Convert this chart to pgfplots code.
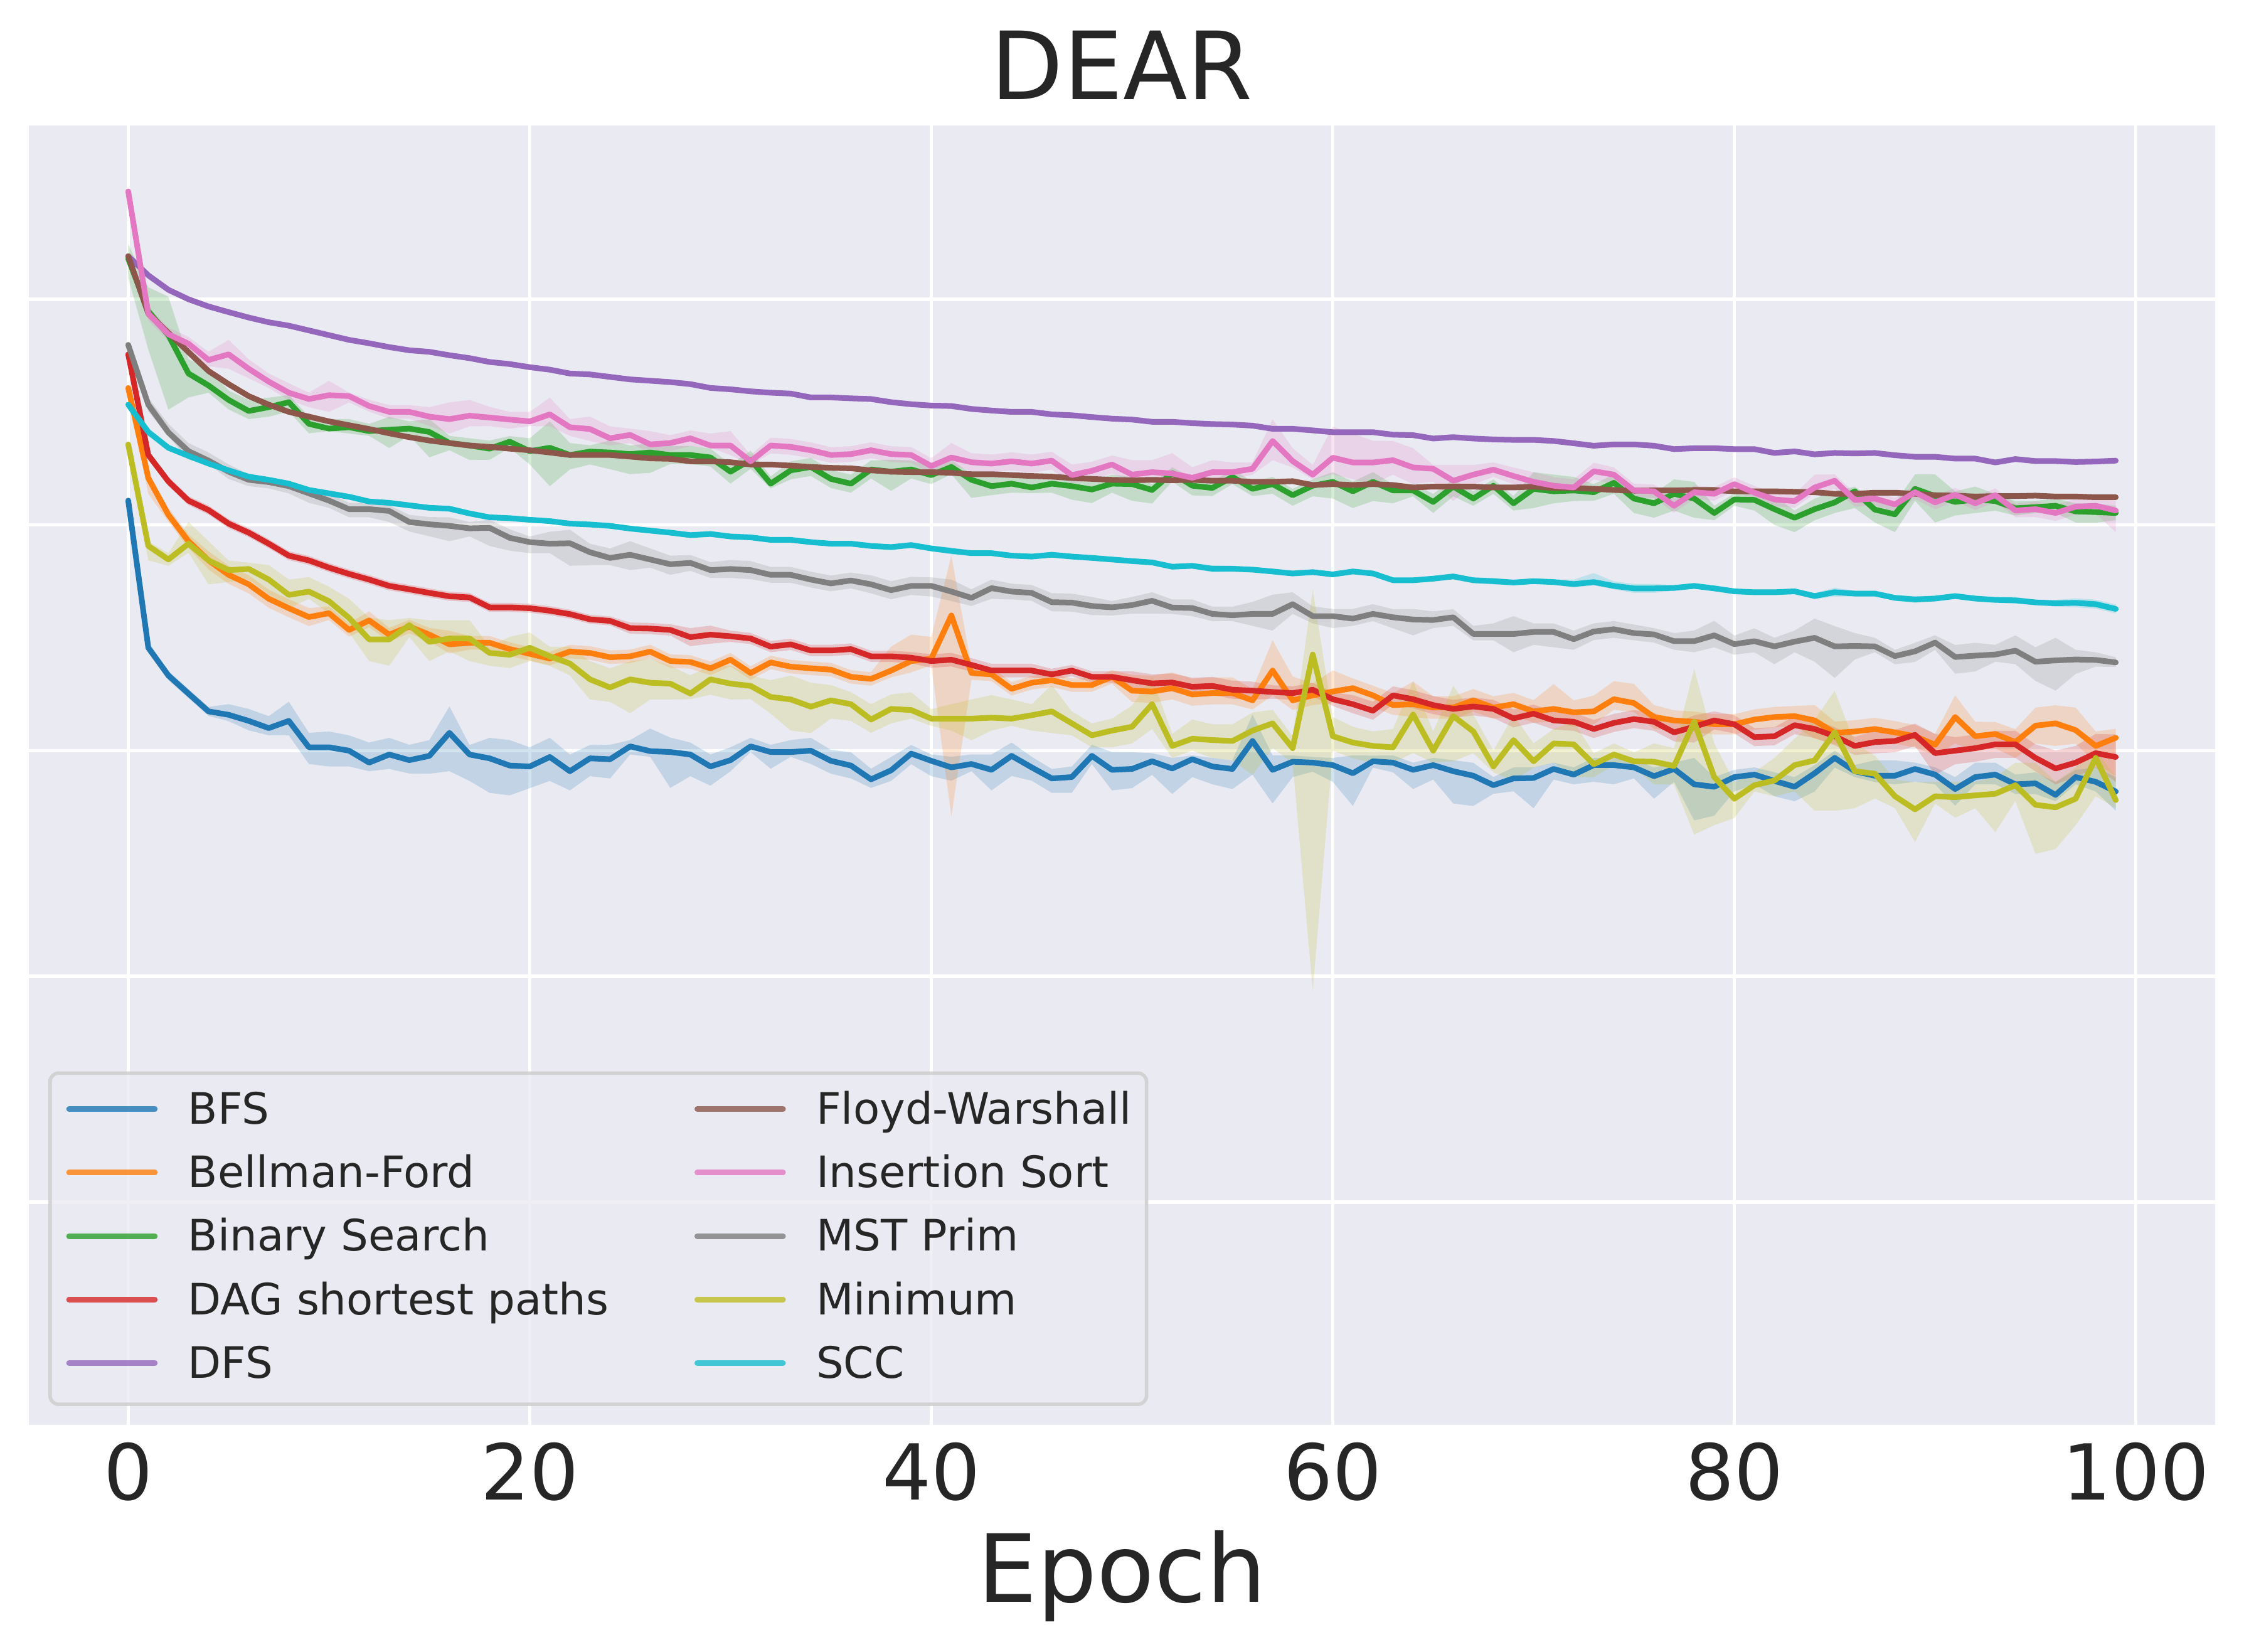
\documentclass[border=0pt]{standalone}
\usepackage{fontspec}
\setmainfont{DejaVu Sans}
\usepackage{pgfplots}
\usepackage{pgfplotstable}
\pgfplotsset{compat=1.18}
\usepgfplotslibrary{fillbetween}

\definecolor{cBFS}{HTML}{1F77B4}
\definecolor{cBF}{HTML}{FF7F0E}
\definecolor{cBS}{HTML}{2CA02C}
\definecolor{cDAG}{HTML}{D62728}
\definecolor{cDFS}{HTML}{9467BD}
\definecolor{cFW}{HTML}{8C564B}
\definecolor{cIS}{HTML}{E377C2}
\definecolor{cMST}{HTML}{7F7F7F}
\definecolor{cMIN}{HTML}{BCBD22}
\definecolor{cSCC}{HTML}{17BECF}
\definecolor{bgc}{HTML}{EAEAF2}
\definecolor{textc}{HTML}{262626}
\definecolor{legedge}{HTML}{CCCCCC}

\pgfplotstableread{
x y d u
0 3.108 0.02 0.02
1 2.456 0.017 0.025
2 2.333 0.02 0.02
3 2.253 0.02 0.02
4 2.174 0.02 0.02
5 2.159 0.028 0.047
6 2.132 0.042 0.053
7 2.100 0.032 0.053
8 2.132 0.064 0.085
9 2.015 0.074 0.064
10 2.015 0.085 0.07
11 2.000 0.07 0.068
12 1.947 0.038 0.089
13 1.983 0.064 0.074
14 1.958 0.059 0.068
15 1.977 0.079 0.07
16 2.079 0.17 0.117
17 1.983 0.117 0.042
18 1.966 0.153 0.091
19 1.934 0.132 0.113
20 1.930 0.096 0.085
21 1.972 0.106 0.085
22 1.909 0.085 0.074
23 1.966 0.079 0.059
24 1.962 0.085 0.064
25 2.019 0.036 0.028
26 1.998 0.025 0.10
27 1.994 0.159 0.064
28 1.983 0.096 0.053
29 1.930 0.085 0.053
30 1.958 0.049 0.057
31 2.019 0.025 0.038
32 1.994 0.074 0.032
33 1.994 0.021 0.053
34 2.000 0.059 0.057
35 1.955 0.057 0.049
36 1.934 0.057 0.059
37 1.873 0.038 0.047
38 1.913 0.047 0.059
39 1.987 0.047 0.038
40 1.955 0.068 0.028
41 1.926 0.059 0.047
42 1.941 0.032 0.042
43 1.915 0.091 0.068
44 1.977 0.089 0.059
45 1.926 0.059 0.047
46 1.877 0.064 0.042
47 1.883 0.07 0.047
48 1.977 0.036 0.049
49 1.915 0.091 0.079
50 1.919 0.085 0.074
51 1.953 0.06 0.036
52 1.921 0.113 0.047
53 1.962 0.079 0.017
54 1.930 0.079 0.038
55 1.919 0.089 0.038
56 2.043 0.149 0.117
57 1.915 0.149 0.064
58 1.951 0.068 0.028
59 1.947 0.04 0.025
60 1.936 0.074 0.032
61 1.900 0.145 0.079
62 1.953 0.028 0.025
63 1.947 0.043 0.032
64 1.915 0.085 0.032
65 1.936 0.064 0.032
66 1.909 0.143 0.049
67 1.889 0.134 0.057
68 1.847 0.038 0.036
69 1.877 0.057 0.049
70 1.879 0.134 0.047
71 1.919 0.047 0.028
72 1.894 0.043 0.032
73 1.936 0.074 0.032
74 1.936 0.085 0.032
75 1.926 0.049 0.036
76 1.887 0.10 0.038
77 1.919 0.057 0.028
78 1.851 0.16 0.117
79 1.840 0.128 0.043
80 1.883 0.064 0.032
81 1.894 0.043 0.032
82 1.866 0.068 0.038
83 1.840 0.064 0.043
84 1.900 0.081 0.036
85 1.968 0.043 0.032
86 1.909 0.026 0.028
87 1.889 0.028 0.068
88 1.889 0.038 0.068
89 1.919 0.057 0.028
90 1.894 0.043 0.032
91 1.830 0.074 0.053
92 1.883 0.032 0.064
93 1.894 0.043 0.053
94 1.851 0.043 0.043
95 1.855 0.047 0.049
96 1.804 0.028 0.057
97 1.883 0.032 0.032
98 1.862 0.043 0.064
99 1.819 0.085 0.064
}\tBFS

\pgfplotstableread{
x y d u
0 3.607 0.02 0.02
1 3.208 0.07 0.02
2 3.045 0.03 0.03
3 2.928 0.03 0.03
4 2.843 0.04 0.04
5 2.779 0.04 0.04
6 2.737 0.04 0.04
7 2.673 0.04 0.04
8 2.631 0.04 0.04
9 2.592 0.04 0.04
10 2.609 0.03 0.03
11 2.535 0.03 0.03
12 2.577 0.03 0.04
13 2.514 0.03 0.03
14 2.550 0.03 0.03
15 2.514 0.03 0.03
16 2.471 0.04 0.06
17 2.478 0.03 0.03
18 2.478 0.03 0.03
19 2.450 0.03 0.03
20 2.429 0.03 0.03
21 2.408 0.03 0.03
22 2.439 0.03 0.03
23 2.433 0.03 0.03
24 2.414 0.03 0.03
25 2.418 0.03 0.03
26 2.439 0.03 0.03
27 2.397 0.03 0.03
28 2.393 0.03 0.03
29 2.365 0.03 0.03
30 2.403 0.03 0.03
31 2.344 0.03 0.03
32 2.391 0.03 0.03
33 2.372 0.03 0.03
34 2.365 0.03 0.03
35 2.359 0.03 0.03
36 2.327 0.03 0.03
37 2.318 0.03 0.03
38 2.355 0.03 0.106
39 2.397 0.05 0.117
40 2.408 0.03 0.096
41 2.599 0.89 0.265
42 2.344 0.03 0.03
43 2.338 0.03 0.03
44 2.274 0.03 0.03
45 2.301 0.03 0.03
46 2.312 0.03 0.03
47 2.291 0.03 0.03
48 2.291 0.03 0.03
49 2.327 0.03 0.03
50 2.266 0.05 0.07
51 2.262 0.05 0.07
52 2.277 0.05 0.07
53 2.249 0.05 0.07
54 2.255 0.05 0.07
55 2.255 0.05 0.07
56 2.223 0.04 0.05
57 2.355 0.11 0.134
58 2.223 0.043 0.106
59 2.245 0.043 0.053
60 2.262 0.05 0.094
61 2.277 0.053 0.043
62 2.245 0.053 0.043
63 2.202 0.043 0.053
64 2.206 0.057 0.10
65 2.191 0.05 0.05
66 2.191 0.05 0.05
67 2.223 0.05 0.05
68 2.191 0.05 0.05
69 2.206 0.05 0.05
70 2.174 0.05 0.05
71 2.185 0.057 0.11
72 2.170 0.064 0.053
73 2.174 0.057 0.07
74 2.228 0.047 0.08
75 2.211 0.04 0.085
76 2.149 0.053 0.053
77 2.134 0.045 0.045
78 2.128 0.045 0.045
79 2.117 0.045 0.045
80 2.117 0.045 0.045
81 2.138 0.045 0.045
82 2.149 0.045 0.045
83 2.153 0.045 0.045
84 2.134 0.08 0.068
85 2.079 0.05 0.05
86 2.085 0.05 0.05
87 2.096 0.05 0.05
88 2.081 0.05 0.05
89 2.064 0.05 0.05
90 2.026 0.047 0.049
91 2.149 0.117 0.096
92 2.064 0.064 0.064
93 2.074 0.064 0.053
94 2.038 0.07 0.057
95 2.111 0.08 0.08
96 2.121 0.1 0.08
97 2.091 0.06 0.1
98 2.021 0.074 0.064
99 2.057 0.17 0.04
}\tBF

\pgfplotstableread{
x y d u
0 4.180 0.085 0.064
1 3.947 0.17 0.106
2 3.841 0.33 0.17
3 3.671 0.106 0.064
4 3.618 0.032 0.074
5 3.554 0.042 0.042
6 3.505 0.036 0.049
7 3.522 0.042 0.042
8 3.544 0.042 0.032
9 3.448 0.042 0.032
10 3.427 0.011 0.042
11 3.433 0.028 0.036
12 3.416 0.021 0.032
13 3.422 0.081 0.057
14 3.427 0.032 0.032
15 3.412 0.112 0.057
16 3.363 0.032 0.032
17 3.352 0.064 0.032
18 3.338 0.049 0.036
19 3.369 0.028 0.025
20 3.327 0.059 0.057
21 3.342 0.17 0.117
22 3.310 0.064 0.053
23 3.325 0.057 0.028
24 3.321 0.074 0.053
25 3.314 0.089 0.038
26 3.321 0.09 0.04
27 3.310 0.04 0.04
28 3.310 0.04 0.04
29 3.299 0.04 0.04
30 3.236 0.053 0.032
31 3.289 0.04 0.04
32 3.183 0.021 0.032
33 3.242 0.04 0.04
34 3.257 0.04 0.04
35 3.204 0.04 0.04
36 3.183 0.04 0.04
37 3.246 0.04 0.04
38 3.236 0.085 0.053
39 3.246 0.04 0.04
40 3.221 0.04 0.04
41 3.257 0.032 0.032
42 3.200 0.08 0.025
43 3.172 0.04 0.04
44 3.183 0.04 0.04
45 3.166 0.025 0.038
46 3.183 0.04 0.04
47 3.172 0.06 0.04
48 3.157 0.06 0.04
49 3.183 0.04 0.04
50 3.181 0.074 0.032
51 3.155 0.06 0.026
52 3.230 0.038 0.026
53 3.174 0.043 0.032
54 3.164 0.036 0.028
55 3.213 0.032 0.032
56 3.160 0.032 0.032
57 3.181 0.043 0.032
58 3.132 0.047 0.028
59 3.174 0.047 0.028
60 3.191 0.074 0.043
61 3.149 0.074 0.043
62 3.191 0.085 0.043
63 3.153 0.057 0.028
64 3.153 0.026 0.028
65 3.102 0.049 0.036
66 3.170 0.043 0.032
67 3.117 0.032 0.032
68 3.174 0.036 0.028
69 3.096 0.032 0.032
70 3.160 0.085 0.074
71 3.149 0.053 0.074
72 3.153 0.047 0.06
73 3.145 0.038 0.036
74 3.187 0.049 0.036
75 3.117 0.064 0.043
76 3.096 0.064 0.043
77 3.138 0.074 0.064
78 3.117 0.085 0.074
79 3.053 0.032 0.032
80 3.113 0.028 0.026
81 3.111 0.047 0.038
82 3.070 0.07 0.057
83 3.032 0.064 0.032
84 3.070 0.049 0.047
85 3.100 0.047 0.049
86 3.149 0.074 0.021
87 3.068 0.057 0.038
88 3.047 0.079 0.049
89 3.160 0.053 0.064
90 3.128 0.117 0.096
91 3.102 0.06 0.047
92 3.113 0.06 0.057
93 3.106 0.043 0.032
94 3.074 0.032 0.032
95 3.079 0.026 0.028
96 3.085 0.032 0.032
97 3.060 0.049 0.036
98 3.057 0.047 0.038
99 3.053 0.032 0.032
}\tBS

\pgfplotstableread{
x y d u
0 3.756 0.02 0.02
1 3.310 0.02 0.02
2 3.193 0.02 0.02
3 3.108 0.02 0.02
4 3.066 0.02 0.02
5 3.006 0.02 0.02
6 2.966 0.02 0.02
7 2.917 0.02 0.02
8 2.864 0.02 0.02
9 2.843 0.02 0.02
10 2.811 0.02 0.02
11 2.783 0.02 0.02
12 2.758 0.02 0.02
13 2.730 0.02 0.02
14 2.715 0.02 0.02
15 2.699 0.02 0.02
16 2.684 0.02 0.02
17 2.679 0.02 0.02
18 2.635 0.02 0.02
19 2.635 0.02 0.02
20 2.631 0.02 0.02
21 2.620 0.02 0.02
22 2.605 0.02 0.02
23 2.582 0.02 0.02
24 2.575 0.02 0.02
25 2.543 0.025 0.025
26 2.541 0.025 0.025
27 2.535 0.025 0.025
28 2.503 0.04 0.04
29 2.514 0.04 0.04
30 2.507 0.025 0.025
31 2.497 0.025 0.025
32 2.461 0.025 0.025
33 2.471 0.025 0.025
34 2.444 0.025 0.025
35 2.444 0.025 0.025
36 2.450 0.025 0.025
37 2.418 0.025 0.025
38 2.418 0.025 0.025
39 2.412 0.025 0.025
40 2.397 0.03 0.03
41 2.403 0.03 0.03
42 2.380 0.03 0.03
43 2.355 0.03 0.03
44 2.355 0.03 0.03
45 2.355 0.03 0.03
46 2.338 0.025 0.025
47 2.355 0.025 0.025
48 2.327 0.025 0.025
49 2.327 0.025 0.025
50 2.312 0.04 0.04
51 2.298 0.04 0.04
52 2.302 0.04 0.04
53 2.283 0.04 0.04
54 2.287 0.04 0.04
55 2.270 0.04 0.04
56 2.266 0.04 0.04
57 2.260 0.03 0.03
58 2.255 0.03 0.03
59 2.270 0.03 0.03
60 2.228 0.03 0.03
61 2.206 0.04 0.04
62 2.177 0.04 0.04
63 2.245 0.04 0.04
64 2.228 0.04 0.04
65 2.202 0.04 0.04
66 2.185 0.04 0.04
67 2.196 0.04 0.04
68 2.185 0.04 0.04
69 2.143 0.04 0.04
70 2.164 0.04 0.04
71 2.134 0.04 0.04
72 2.128 0.04 0.04
73 2.096 0.04 0.04
74 2.123 0.04 0.04
75 2.140 0.04 0.04
76 2.128 0.04 0.04
77 2.081 0.04 0.04
78 2.106 0.07 0.05
79 2.134 0.04 0.04
80 2.117 0.04 0.04
81 2.060 0.04 0.04
82 2.064 0.04 0.04
83 2.113 0.04 0.04
84 2.096 0.04 0.04
85 2.064 0.04 0.04
86 2.021 0.04 0.04
87 2.038 0.05 0.05
88 2.043 0.05 0.05
89 2.070 0.05 0.05
90 1.989 0.096 0.085
91 2.000 0.06 0.06
92 2.011 0.06 0.06
93 2.028 0.06 0.06
94 2.028 0.06 0.06
95 1.968 0.06 0.06
96 1.921 0.07 0.08
97 1.947 0.064 0.074
98 1.989 0.064 0.085
99 1.972 0.11 0.1
}\tDAG

\pgfplotstableread{
x y d u
0 4.191 0.012 0.012
1 4.106 0.012 0.012
2 4.042 0.012 0.012
3 4.000 0.012 0.012
4 3.968 0.012 0.012
5 3.943 0.012 0.012
6 3.919 0.012 0.012
7 3.898 0.012 0.012
8 3.883 0.012 0.012
9 3.862 0.012 0.012
10 3.841 0.012 0.012
11 3.820 0.012 0.012
12 3.805 0.012 0.012
13 3.788 0.012 0.012
14 3.774 0.012 0.012
15 3.767 0.012 0.012
16 3.752 0.012 0.012
17 3.739 0.012 0.012
18 3.722 0.012 0.012
19 3.713 0.012 0.012
20 3.699 0.012 0.012
21 3.688 0.012 0.012
22 3.671 0.012 0.012
23 3.667 0.012 0.012
24 3.656 0.012 0.012
25 3.645 0.012 0.012
26 3.639 0.012 0.012
27 3.633 0.012 0.012
28 3.624 0.012 0.012
29 3.607 0.012 0.012
30 3.601 0.012 0.012
31 3.592 0.012 0.012
32 3.586 0.012 0.012
33 3.582 0.012 0.012
34 3.565 0.012 0.012
35 3.565 0.012 0.012
36 3.561 0.012 0.012
37 3.558 0.012 0.012
38 3.544 0.012 0.012
39 3.535 0.012 0.012
40 3.529 0.012 0.012
41 3.527 0.012 0.012
42 3.514 0.012 0.012
43 3.507 0.012 0.012
44 3.501 0.012 0.012
45 3.501 0.012 0.012
46 3.490 0.012 0.012
47 3.486 0.012 0.012
48 3.478 0.012 0.012
49 3.471 0.012 0.012
50 3.467 0.012 0.012
51 3.457 0.012 0.012
52 3.457 0.012 0.012
53 3.451 0.012 0.012
54 3.447 0.012 0.012
55 3.445 0.012 0.012
56 3.440 0.012 0.012
57 3.426 0.012 0.012
58 3.426 0.012 0.012
59 3.419 0.012 0.012
60 3.411 0.012 0.012
61 3.411 0.012 0.012
62 3.411 0.012 0.012
63 3.400 0.012 0.012
64 3.398 0.012 0.012
65 3.383 0.012 0.012
66 3.389 0.012 0.012
67 3.383 0.012 0.012
68 3.379 0.012 0.012
69 3.377 0.012 0.012
70 3.377 0.012 0.012
71 3.372 0.012 0.012
72 3.362 0.012 0.012
73 3.351 0.012 0.012
74 3.357 0.012 0.012
75 3.357 0.012 0.012
76 3.351 0.012 0.012
77 3.336 0.012 0.012
78 3.340 0.012 0.012
79 3.340 0.012 0.012
80 3.336 0.012 0.012
81 3.336 0.012 0.012
82 3.319 0.012 0.012
83 3.326 0.012 0.012
84 3.313 0.012 0.012
85 3.319 0.012 0.012
86 3.317 0.012 0.012
87 3.319 0.012 0.012
88 3.309 0.012 0.012
89 3.302 0.012 0.012
90 3.302 0.012 0.012
91 3.294 0.012 0.012
92 3.294 0.012 0.012
93 3.277 0.012 0.012
94 3.292 0.012 0.012
95 3.283 0.012 0.012
96 3.283 0.012 0.012
97 3.279 0.012 0.012
98 3.281 0.012 0.012
99 3.285 0.012 0.012
}\tDFS

\pgfplotstableread{
x y d u
0 4.191 0.01 0.01
1 3.936 0.01 0.01
2 3.851 0.01 0.01
3 3.766 0.01 0.01
4 3.682 0.01 0.01
5 3.624 0.01 0.01
6 3.571 0.01 0.01
7 3.533 0.01 0.01
8 3.501 0.01 0.01
9 3.480 0.01 0.01
10 3.459 0.01 0.01
11 3.442 0.01 0.01
12 3.425 0.01 0.01
13 3.406 0.01 0.01
14 3.389 0.01 0.01
15 3.374 0.01 0.01
16 3.363 0.01 0.01
17 3.352 0.01 0.01
18 3.346 0.01 0.01
19 3.338 0.01 0.01
20 3.331 0.01 0.01
21 3.321 0.01 0.01
22 3.310 0.01 0.01
23 3.310 0.01 0.01
24 3.310 0.01 0.01
25 3.303 0.01 0.01
26 3.295 0.01 0.01
27 3.293 0.01 0.01
28 3.282 0.01 0.01
29 3.282 0.01 0.01
30 3.278 0.01 0.01
31 3.268 0.01 0.01
32 3.268 0.01 0.01
33 3.263 0.01 0.01
34 3.257 0.01 0.01
35 3.253 0.01 0.01
36 3.251 0.01 0.01
37 3.242 0.01 0.01
38 3.236 0.01 0.01
39 3.234 0.01 0.01
40 3.234 0.01 0.01
41 3.231 0.01 0.01
42 3.225 0.01 0.01
43 3.225 0.01 0.01
44 3.221 0.01 0.01
45 3.217 0.01 0.01
46 3.214 0.01 0.01
47 3.208 0.01 0.01
48 3.204 0.01 0.01
49 3.200 0.01 0.01
50 3.198 0.01 0.01
51 3.200 0.01 0.01
52 3.198 0.01 0.01
53 3.200 0.01 0.01
54 3.196 0.01 0.01
55 3.196 0.01 0.01
56 3.191 0.01 0.01
57 3.191 0.01 0.01
58 3.194 0.01 0.01
59 3.177 0.01 0.01
60 3.181 0.01 0.01
61 3.177 0.01 0.01
62 3.181 0.01 0.01
63 3.177 0.01 0.01
64 3.166 0.01 0.01
65 3.170 0.01 0.01
66 3.170 0.01 0.01
67 3.170 0.01 0.01
68 3.166 0.01 0.01
69 3.166 0.01 0.01
70 3.170 0.01 0.01
71 3.164 0.01 0.01
72 3.164 0.01 0.01
73 3.160 0.01 0.01
74 3.155 0.01 0.01
75 3.152 0.01 0.01
76 3.153 0.01 0.01
77 3.153 0.01 0.01
78 3.155 0.01 0.01
79 3.155 0.01 0.01
80 3.149 0.01 0.01
81 3.149 0.01 0.01
82 3.149 0.01 0.01
83 3.147 0.01 0.01
84 3.145 0.01 0.01
85 3.138 0.01 0.01
86 3.138 0.01 0.01
87 3.143 0.01 0.01
88 3.143 0.01 0.01
89 3.138 0.01 0.01
90 3.132 0.01 0.01
91 3.130 0.01 0.01
92 3.126 0.01 0.01
93 3.128 0.01 0.01
94 3.128 0.01 0.01
95 3.130 0.01 0.01
96 3.126 0.01 0.01
97 3.126 0.01 0.01
98 3.123 0.01 0.01
99 3.123 0.01 0.01
}\tFW

\pgfplotstableread{
x y d u
0 4.478 0.02 0.02
1 3.936 0.03 0.03
2 3.845 0.03 0.03
3 3.803 0.03 0.03
4 3.731 0.028 0.036
5 3.756 0.064 0.064
6 3.692 0.042 0.042
7 3.635 0.028 0.036
8 3.586 0.032 0.042
9 3.558 0.036 0.028
10 3.575 0.074 0.064
11 3.571 0.028 0.015
12 3.527 0.025 0.028
13 3.501 0.03 0.03
14 3.501 0.03 0.03
15 3.480 0.042 0.042
16 3.469 0.064 0.074
17 3.484 0.047 0.07
18 3.476 0.038 0.047
19 3.467 0.04 0.034
20 3.459 0.021 0.042
21 3.490 0.053 0.074
22 3.433 0.038 0.036
23 3.425 0.053 0.055
24 3.384 0.032 0.053
25 3.399 0.036 0.028
26 3.357 0.036 0.059
27 3.363 0.035 0.035
28 3.384 0.035 0.035
29 3.352 0.011 0.053
30 3.352 0.042 0.064
31 3.282 0.015 0.028
32 3.352 0.035 0.035
33 3.346 0.035 0.035
34 3.331 0.035 0.035
35 3.310 0.035 0.035
36 3.314 0.035 0.035
37 3.331 0.035 0.035
38 3.314 0.035 0.035
39 3.310 0.035 0.035
40 3.261 0.035 0.035
41 3.299 0.032 0.064
42 3.278 0.04 0.04
43 3.272 0.04 0.04
44 3.282 0.04 0.04
45 3.272 0.04 0.04
46 3.285 0.04 0.04
47 3.221 0.038 0.047
48 3.240 0.04 0.04
49 3.268 0.04 0.04
50 3.223 0.032 0.064
51 3.234 0.032 0.053
52 3.228 0.026 0.09
53 3.209 0.028 0.047
54 3.234 0.032 0.053
55 3.234 0.032 0.043
56 3.249 0.026 0.028
57 3.372 0.085 0.096
58 3.283 0.028 0.057
59 3.223 0.021 0.043
60 3.298 0.074 0.138
61 3.277 0.074 0.128
62 3.277 0.096 0.096
63 3.287 0.064 0.085
64 3.255 0.074 0.085
65 3.249 0.057 0.017
66 3.196 0.09 0.07
67 3.223 0.043 0.043
68 3.245 0.032 0.032
69 3.217 0.036 0.038
70 3.191 0.032 0.043
71 3.174 0.026 0.038
72 3.166 0.028 0.036
73 3.238 0.036 0.038
74 3.223 0.043 0.032
75 3.153 0.03 0.03
76 3.149 0.03 0.03
77 3.085 0.03 0.03
78 3.145 0.03 0.03
79 3.138 0.03 0.03
80 3.181 0.03 0.03
81 3.143 0.03 0.03
82 3.113 0.03 0.03
83 3.106 0.03 0.03
84 3.166 0.028 0.057
85 3.196 0.036 0.028
86 3.111 0.03 0.03
87 3.117 0.03 0.03
88 3.091 0.03 0.03
89 3.145 0.03 0.03
90 3.100 0.03 0.03
91 3.134 0.03 0.03
92 3.096 0.03 0.03
93 3.132 0.03 0.03
94 3.064 0.03 0.03
95 3.070 0.035 0.035
96 3.053 0.035 0.035
97 3.081 0.035 0.035
98 3.085 0.035 0.035
99 3.064 0.096 0.043
}\tIS

\pgfplotstableread{
x y d u
0 3.798 0.02 0.02
1 3.533 0.03 0.03
2 3.410 0.017 0.038
3 3.327 0.038 0.036
4 3.285 0.017 0.036
5 3.236 0.032 0.032
6 3.200 0.028 0.025
7 3.190 0.028 0.015
8 3.172 0.032 0.021
9 3.140 0.042 0.021
10 3.108 0.032 0.032
11 3.070 0.036 0.028
12 3.070 0.036 0.028
13 3.062 0.049 0.025
14 3.013 0.042 0.032
15 3.003 0.053 0.032
16 2.996 0.068 0.038
17 2.985 0.036 0.028
18 2.987 0.08 0.036
19 2.943 0.057 0.038
20 2.924 0.049 0.025
21 2.917 0.042 0.053
22 2.919 0.1 0.06
23 2.879 0.057 0.038
24 2.854 0.032 0.042
25 2.868 0.068 0.06
26 2.847 0.036 0.049
27 2.826 0.047 0.038
28 2.832 0.035 0.035
29 2.800 0.035 0.035
30 2.805 0.04 0.04
31 2.800 0.04 0.04
32 2.779 0.035 0.035
33 2.779 0.035 0.035
34 2.758 0.035 0.035
35 2.741 0.035 0.035
36 2.754 0.035 0.035
37 2.737 0.04 0.04
38 2.711 0.04 0.04
39 2.730 0.04 0.04
40 2.730 0.047 0.038
41 2.705 0.042 0.053
42 2.677 0.036 0.038
43 2.720 0.047 0.038
44 2.705 0.035 0.035
45 2.699 0.035 0.035
46 2.658 0.04 0.04
47 2.656 0.04 0.04
48 2.641 0.04 0.04
49 2.635 0.036 0.028
50 2.645 0.038 0.036
51 2.664 0.057 0.038
52 2.634 0.028 0.036
53 2.632 0.036 0.038
54 2.606 0.032 0.032
55 2.600 0.026 0.038
56 2.606 0.053 0.053
57 2.606 0.074 0.085
58 2.649 0.043 0.053
59 2.596 0.032 0.043
60 2.596 0.053 0.032
61 2.585 0.032 0.043
62 2.606 0.032 0.043
63 2.591 0.049 0.036
64 2.581 0.07 0.047
65 2.579 0.036 0.038
66 2.591 0.038 0.036
67 2.517 0.028 0.036
68 2.517 0.028 0.047
69 2.517 0.081 0.079
70 2.526 0.057 0.038
71 2.526 0.068 0.038
72 2.494 0.047 0.038
73 2.528 0.038 0.036
74 2.538 0.038 0.036
75 2.521 0.032 0.038
76 2.515 0.036 0.028
77 2.485 0.038 0.036
78 2.485 0.049 0.047
79 2.511 0.053 0.064
80 2.472 0.047 0.038
81 2.485 0.049 0.057
82 2.462 0.079 0.038
83 2.483 0.047 0.049
84 2.500 0.106 0.085
85 2.462 0.14 0.09
86 2.464 0.06 0.057
87 2.462 0.026 0.038
88 2.419 0.036 0.028
89 2.440 0.047 0.038
90 2.479 0.032 0.032
91 2.415 0.074 0.053
92 2.421 0.07 0.057
93 2.426 0.032 0.043
94 2.443 0.06 0.068
95 2.394 0.085 0.064
96 2.400 0.134 0.1
97 2.404 0.064 0.043
98 2.402 0.03 0.034
99 2.391 0.02 0.023
}\tMST

\pgfplotstableread{
x y d u
0 3.357 0.02 0.02
1 2.907 0.064 0.02
2 2.847 0.028 0.028
3 2.917 0.04 0.096
4 2.843 0.106 0.085
5 2.800 0.053 0.042
6 2.805 0.047 0.028
7 2.758 0.064 0.064
8 2.690 0.059 0.068
9 2.705 0.032 0.064
10 2.662 0.053 0.064
11 2.588 0.064 0.085
12 2.493 0.096 0.096
13 2.493 0.117 0.085
14 2.556 0.053 0.032
15 2.482 0.085 0.096
16 2.497 0.057 0.081
17 2.497 0.1 0.081
18 2.433 0.057 0.028
19 2.425 0.059 0.079
20 2.456 0.059 0.068
21 2.418 0.042 0.042
22 2.386 0.053 0.074
23 2.316 0.089 0.081
24 2.280 0.064 0.085
25 2.316 0.15 0.08
26 2.301 0.074 0.106
27 2.297 0.07 0.079
28 2.253 0.025 0.081
29 2.316 0.068 0.059
30 2.297 0.07 0.079
31 2.287 0.059 0.047
32 2.238 0.074 0.074
33 2.227 0.138 0.106
34 2.195 0.117 0.106
35 2.223 0.081 0.068
36 2.206 0.074 0.053
37 2.138 0.059 0.068
38 2.185 0.064 0.064
39 2.180 0.038 0.079
40 2.142 0.032 0.042
41 2.142 0.053 0.064
42 2.142 0.096 0.085
43 2.146 0.057 0.1
44 2.142 0.032 0.085
45 2.157 0.068 0.049
46 2.174 0.096 0.117
47 2.121 0.053 0.053
48 2.068 0.053 0.053
49 2.089 0.074 0.053
50 2.106 0.074 0.094
51 2.206 0.11 0.12
52 2.021 0.053 0.053
53 2.053 0.053 0.085
54 2.047 0.079 0.07
55 2.043 0.085 0.074
56 2.089 0.196 0.08
57 2.121 0.11 0.06
58 2.011 0.064 0.053
59 2.426 1.49 0.287
60 2.064 0.064 0.085
61 2.036 0.07 0.07
62 2.021 0.074 0.064
63 2.015 0.068 0.081
64 2.160 0.17 0.149
65 2.000 0.053 0.085
66 2.153 0.2 0.134
67 2.085 0.096 0.074
68 1.930 0.026 0.07
69 2.047 0.18 0.11
70 1.953 0.028 0.079
71 2.032 0.085 0.064
72 2.028 0.145 0.1
73 1.940 0.057 0.049
74 1.983 0.047 0.049
75 1.953 0.03 0.04
76 1.951 0.1 0.081
77 1.932 0.081 0.079
78 2.128 0.5 0.234
79 1.883 0.213 0.149
80 1.787 0.085 0.074
81 1.847 0.028 0.057
82 1.868 0.07 0.1
83 1.936 0.117 0.117
84 1.957 0.223 0.18
85 2.081 0.347 0.185
86 1.909 0.164 0.123
87 1.898 0.11 0.08
88 1.798 0.053 0.074
89 1.740 0.145 0.12
90 1.798 0.032 0.064
91 1.794 0.091 0.068
92 1.802 0.057 0.06
93 1.809 0.17 0.074
94 1.847 0.07 0.1
95 1.760 0.217 0.187
96 1.749 0.185 0.113
97 1.787 0.117 0.138
98 1.968 0.17 0.04
99 1.781 0.036 0.1
}\tMIN

\pgfplotstableread{
x y d u
0 3.533 0.012 0.012
1 3.412 0.012 0.012
2 3.342 0.012 0.012
3 3.306 0.012 0.012
4 3.272 0.012 0.012
5 3.242 0.012 0.012
6 3.214 0.012 0.012
7 3.200 0.012 0.012
8 3.183 0.012 0.012
9 3.155 0.012 0.012
10 3.140 0.012 0.012
11 3.125 0.012 0.012
12 3.104 0.012 0.012
13 3.098 0.012 0.012
14 3.087 0.012 0.012
15 3.076 0.012 0.012
16 3.072 0.012 0.012
17 3.051 0.012 0.012
18 3.034 0.012 0.012
19 3.030 0.012 0.012
20 3.023 0.012 0.012
21 3.017 0.012 0.012
22 3.006 0.012 0.012
23 3.002 0.012 0.012
24 2.996 0.012 0.012
25 2.984 0.012 0.012
26 2.975 0.012 0.012
27 2.966 0.012 0.012
28 2.955 0.012 0.012
29 2.960 0.012 0.012
30 2.949 0.012 0.012
31 2.945 0.012 0.012
32 2.934 0.012 0.012
33 2.934 0.012 0.012
34 2.924 0.012 0.012
35 2.917 0.012 0.012
36 2.917 0.012 0.012
37 2.907 0.012 0.012
38 2.902 0.012 0.012
39 2.911 0.012 0.012
40 2.896 0.012 0.012
41 2.885 0.015 0.015
42 2.875 0.012 0.012
43 2.875 0.012 0.012
44 2.864 0.012 0.012
45 2.860 0.012 0.012
46 2.868 0.012 0.012
47 2.860 0.012 0.012
48 2.854 0.012 0.012
49 2.847 0.012 0.012
50 2.840 0.012 0.012
51 2.834 0.012 0.012
52 2.815 0.012 0.012
53 2.819 0.012 0.012
54 2.806 0.015 0.015
55 2.806 0.012 0.012
56 2.802 0.012 0.012
57 2.794 0.012 0.012
58 2.785 0.012 0.012
59 2.791 0.012 0.012
60 2.781 0.012 0.012
61 2.794 0.012 0.012
62 2.785 0.012 0.012
63 2.755 0.012 0.012
64 2.755 0.012 0.012
65 2.762 0.012 0.012
66 2.772 0.012 0.012
67 2.755 0.012 0.012
68 2.751 0.015 0.015
69 2.745 0.012 0.012
70 2.751 0.012 0.012
71 2.747 0.012 0.012
72 2.738 0.015 0.02
73 2.747 0.015 0.04
74 2.730 0.015 0.02
75 2.719 0.02 0.02
76 2.719 0.02 0.02
77 2.721 0.012 0.012
78 2.730 0.012 0.012
79 2.719 0.012 0.012
80 2.706 0.012 0.012
81 2.702 0.012 0.012
82 2.702 0.012 0.012
83 2.706 0.012 0.012
84 2.685 0.012 0.012
85 2.702 0.02 0.02
86 2.696 0.012 0.012
87 2.696 0.012 0.012
88 2.677 0.012 0.012
89 2.670 0.015 0.015
90 2.674 0.012 0.012
91 2.685 0.012 0.012
92 2.674 0.012 0.012
93 2.668 0.012 0.012
94 2.666 0.015 0.015
95 2.657 0.012 0.012
96 2.653 0.015 0.015
97 2.655 0.02 0.02
98 2.649 0.02 0.02
99 2.628 0.02 0.02
}\tSCC

\newcommand{\series}[2]{%
  \addplot[draw=none, forget plot, name path=U#2] table[x=x, y expr=\thisrow{y}+\thisrow{u}] {#1};
  \addplot[draw=none, forget plot, name path=L#2] table[x=x, y expr=\thisrow{y}-\thisrow{d}] {#1};
  \addplot[fill=#2, fill opacity=0.2, draw=none, forget plot] fill between[of=U#2 and L#2];
  \addplot[#2, line width=1.8pt, line join=round, line cap=round, forget plot] table[x=x, y=y] {#1};
}

\begin{document}
\begin{tikzpicture}
\begin{axis}[
  name=ax,
  scale only axis,
  width=697pt, height=414.2pt,
  xmin=-4.95, xmax=103.95,
  ymin=-0.987, ymax=4.770,
  xtick={0,20,40,60,80,100},
  xticklabels={0,20,40,60,80,100},
  ytick={0,1,2,3,4},
  yticklabels={},
  major tick length=0pt,
  tick style={draw=none},
  axis line style={draw=none},
  axis background/.style={fill=bgc},
  grid=major,
  grid style={white, line width=1.1pt},
  xticklabel style={font=\fontsize{24.6}{29}\selectfont, text=textc, anchor=base, yshift=-24pt, inner sep=0pt},
  xlabel={Epoch},
  xlabel style={at={(axis description cs:0.5,0)}, anchor=base, yshift=-56.5pt, font=\fontsize{30}{36}\selectfont, text=textc, inner sep=0pt},
  title={DEAR},
  every axis title shift=0pt,
  title style={at={(axis description cs:0.5,1)}, anchor=base, yshift=8.2pt, font=\fontsize{30}{36}\selectfont, text=textc, inner sep=0pt},
  legend columns=2,
  legend image code/.code={%
    \draw[#1, line cap=round] (6.07pt,0.83pt) -- (33.4pt,0.83pt);%
    \path[draw=none, fill=none] (0pt,0pt) (44pt,0pt);%
  },
  legend style={
    at={(axis description cs:0,0)}, anchor=south west,
    xshift=6.2pt, yshift=6pt,
    draw=legedge, fill=bgc, fill opacity=0.8, draw opacity=0.8, text opacity=1,
    line width=1.1pt, rounded corners=2.76pt,
    inner xsep=0pt, inner ysep=2.19pt,
    font=\fontsize{13.8}{16}\selectfont, text=textc,
    cells={anchor=west},
    nodes={inner sep=0pt, outer sep=0pt, text height=14.03pt, text depth=6.21pt},
  },
]
\series{\tBFS}{cBFS}
\series{\tBF}{cBF}
\series{\tBS}{cBS}
\series{\tDAG}{cDAG}
\series{\tDFS}{cDFS}
\series{\tFW}{cFW}
\series{\tIS}{cIS}
\series{\tMST}{cMST}
\series{\tMIN}{cMIN}
\series{\tSCC}{cSCC}

\addlegendimage{cBFS, line width=1.8pt}
\addlegendentry{\makebox[156.28pt][l]{BFS}}
\addlegendimage{cFW, line width=1.8pt}
\addlegendentry{\makebox[105.3pt][l]{Floyd-Warshall}}
\addlegendimage{cBF, line width=1.8pt}
\addlegendentry{\makebox[156.28pt][l]{Bellman-Ford}}
\addlegendimage{cIS, line width=1.8pt}
\addlegendentry{\makebox[105.3pt][l]{Insertion Sort}}
\addlegendimage{cBS, line width=1.8pt}
\addlegendentry{\makebox[156.28pt][l]{Binary Search}}
\addlegendimage{cMST, line width=1.8pt}
\addlegendentry{\makebox[105.3pt][l]{MST Prim}}
\addlegendimage{cDAG, line width=1.8pt}
\addlegendentry{\makebox[156.28pt][l]{DAG shortest paths}}
\addlegendimage{cMIN, line width=1.8pt}
\addlegendentry{\makebox[105.3pt][l]{Minimum}}
\addlegendimage{cDFS, line width=1.8pt}
\addlegendentry{\makebox[156.28pt][l]{DFS}}
\addlegendimage{cSCC, line width=1.8pt}
\addlegendentry{\makebox[105.3pt][l]{SCC}}
\end{axis}
\pgfresetboundingbox
\useasboundingbox (ax.south west) ++(-9.2pt,-72.4pt) rectangle ++(715.4pt,526.6pt);
\end{tikzpicture}
\end{document}
